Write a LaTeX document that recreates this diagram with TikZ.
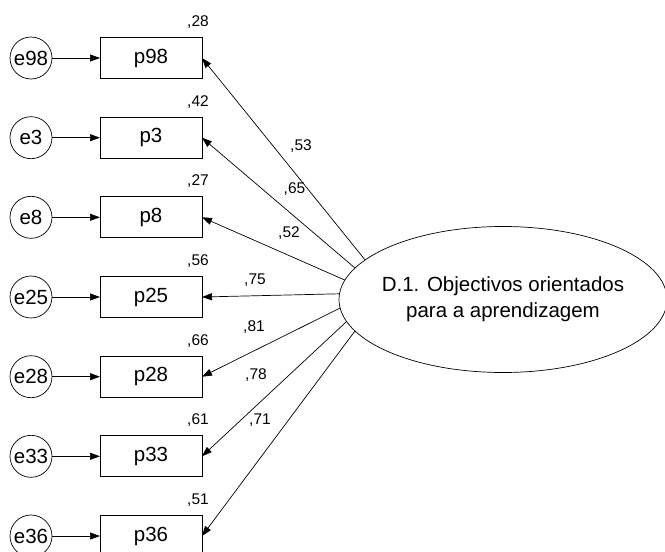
\documentclass[tikz,border=0pt]{standalone}
\usepackage{fontspec}
\setmainfont{Liberation Sans}
\usetikzlibrary{arrows.meta,shapes.geometric}
\begin{document}
\begin{tikzpicture}[x=1pt,y=-1pt,
  line width=0.7pt,
  tip/.style={-{Triangle[length=10pt,width=7pt]}},
  obs/.style={draw,rectangle,minimum width=102pt,minimum height=41pt,inner sep=0pt,outer sep=0pt,font=\fontsize{20.5}{22}\selectfont},
  err/.style={draw,circle,minimum size=42pt,inner sep=0pt,outer sep=0pt,font=\fontsize{20.5}{22}\selectfont},
  lat/.style={draw,ellipse,minimum width=328pt,minimum height=146pt,inner sep=0pt,outer sep=0pt},
  lattext/.style={align=center,inner sep=0pt,font=\fontsize{20.5}{26}\selectfont},
  val/.style={font=\fontsize{15.5}{17}\selectfont,inner sep=0pt}]
\useasboundingbox (0,0) rectangle (665,552);

% latent factor: outline and its caption
\node[lat] (F) at (503,299.5) {};
\node[lattext] (Ftext) at (F.center) {D.1. Objectivos orientados\\para a aprendizagem};

% indicators with their error terms and squared multiple correlations
\foreach \name/\yy/\rsq in {98/58/28, 3/137.7/42, 8/217.3/27, 25/297/56, 28/376.7/66, 33/456.3/61, 36/536/51}{
  \node[obs] (p\name) at (151,\yy) {p\name};
  \node[err] (e\name) at (31,\yy) {e\name};
  \node[val] (r\name) at (198,\yy-36) {,\rsq};
  \draw[tip] (e\name) -- (p\name);
}

% factor loadings
\draw[tip] (F.164.9) -- (p98.east);
\draw[tip] (F.168.8) -- (p3.east);
\draw[tip] (F.173.0) -- (p8.east);
\draw[tip] (F.178.3) -- (p25.east);
\draw[tip] (F.183.7) -- (p28.east);
\draw[tip] (F.188.3) -- (p33.east);
\draw[tip] (F.192.8) -- (p36.east);

\node[val] (l98) at (301,145.7) {,53};
\node[val] (l3)  at (294.5,189.3) {,65};
\node[val] (l8)  at (289,233) {,52};
\node[val] (l25) at (255,280) {,75};
\node[val] (l28) at (254,327) {,81};
\node[val] (l33) at (256,375) {,78};
\node[val] (l36) at (260,420) {,71};
\end{tikzpicture}
\end{document}
